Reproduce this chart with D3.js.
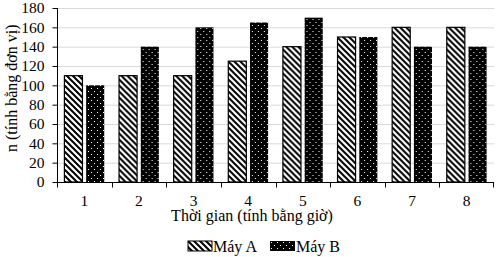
<!DOCTYPE html>
<html>
<head>
<meta charset="utf-8">
<script src="https://cdn.jsdelivr.net/npm/d3@7"></script>
<style>
  body { margin: 0; background: #fff; }
  text { font-family: "Liberation Serif", "Times New Roman", serif; }
</style>
</head>
<body>
<script>
const categories = ['1', '2', '3', '4', '5', '6', '7', '8'];
const seriesNames = ['Máy A', 'Máy B'];
const mayA = [110, 110, 110, 125, 140, 150, 160, 160];
const mayB = [100, 140, 160, 165, 170, 150, 140, 140];
const yTicks = [0, 20, 40, 60, 80, 100, 120, 140, 160, 180];

const width  = 503;
const height = 257;
const margin = {top: 8, right: 9, bottom: 75, left: 57};

const svg = d3.select('body').append('svg')
  .attr('width', width)
  .attr('height', height);

const defs = svg.append('defs');

// diagonal hatch for Máy A
const hatch = defs.append('pattern')
  .attr('id', 'hatchA')
  .attr('patternUnits', 'userSpaceOnUse')
  .attr('width', 6).attr('height', 6);
hatch.append('rect').attr('width', 6).attr('height', 6).attr('fill', '#fff');
hatch.append('path')
  .attr('d', 'M-1,-1 L7,7 M-1,5 L1,7 M5,-1 L7,1')
  .attr('stroke', '#000').attr('stroke-width', 2);

// white dots on black for Máy B
const dots = defs.append('pattern')
  .attr('id', 'dotsB')
  .attr('patternUnits', 'userSpaceOnUse')
  .attr('width', 6).attr('height', 6);
dots.append('rect').attr('width', 6).attr('height', 6).attr('fill', '#000');
dots.append('rect').attr('x', 1).attr('y', 1).attr('width', 1).attr('height', 1).attr('fill', '#fff');
dots.append('rect').attr('x', 4).attr('y', 4).attr('width', 1).attr('height', 1).attr('fill', '#fff');

const fills = ['url(#hatchA)', 'url(#dotsB)'];

const x = d3.scaleBand()
  .domain(categories)
  .range([margin.left, width - margin.right]);

const x1 = d3.scaleBand()
  .domain(seriesNames)
  .range([0, x.bandwidth()])
  .paddingInner(0.17)
  .paddingOuter(0.34);

const y = d3.scaleLinear()
  .domain([0, 180])
  .range([height - margin.bottom, margin.top]);

// gridlines
svg.append('g')
  .selectAll('line')
  .data(yTicks.slice(1))
  .enter().append('line')
  .attr('x1', margin.left).attr('x2', width - margin.right)
  .attr('y1', d => y(d) + 0.5).attr('y2', d => y(d) + 0.5)
  .attr('stroke', '#d9d9d9').attr('stroke-width', 1);

// y axis
const yAxis = svg.append('g')
  .attr('transform', 'translate(' + (margin.left + 0.5) + ',0)')
  .call(d3.axisLeft(y).tickValues(yTicks).tickSize(5).tickPadding(8));
yAxis.select('.domain').attr('stroke', '#000').attr('d', 'M0,' + y(180) + 'V' + (y(0) + 0.5));
yAxis.selectAll('text').attr('font-size', 15.5).attr('fill', '#000')
  .attr('font-family', '"Liberation Serif", serif');

// bars
const data = categories.map((c, i) => ({cat: c, values: [mayA[i], mayB[i]]}));

const groups = svg.append('g')
  .selectAll('g')
  .data(data)
  .enter().append('g')
  .attr('transform', d => 'translate(' + x(d.cat) + ',0)');

groups.selectAll('rect')
  .data(d => d.values.map((v, k) => ({name: seriesNames[k], value: v, k: k})))
  .enter().append('rect')
  .attr('x', d => x1(d.name))
  .attr('y', d => y(d.value))
  .attr('width', x1.bandwidth())
  .attr('height', d => y(0) - y(d.value))
  .attr('fill', d => fills[d.k])
  .attr('stroke', '#000')
  .attr('stroke-width', d => d.k === 0 ? 1.2 : 0);

// x axis
const xAxisG = svg.append('g')
  .attr('transform', 'translate(0,' + (y(0) + 0.5) + ')');
xAxisG.append('line')
  .attr('x1', margin.left).attr('x2', width - margin.right)
  .attr('stroke', '#000');
xAxisG.selectAll('.tk')
  .data(categories.concat(['end']))
  .enter().append('line')
  .attr('class', 'tk')
  .attr('x1', (d, i) => i < categories.length ? Math.round(x(d)) + 0.5 : width - margin.right - 0.5)
  .attr('x2', (d, i) => i < categories.length ? Math.round(x(d)) + 0.5 : width - margin.right - 0.5)
  .attr('y1', 0).attr('y2', 5)
  .attr('stroke', '#000');
xAxisG.selectAll('.lb')
  .data(categories)
  .enter().append('text')
  .attr('class', 'lb')
  .attr('x', d => x(d) + x.bandwidth() / 2)
  .attr('y', 23)
  .attr('text-anchor', 'middle')
  .attr('font-size', 15.5)
  .text(d => d);

// axis titles
svg.append('text')
  .attr('x', 252)
  .attr('y', 221)
  .attr('text-anchor', 'middle')
  .attr('font-size', 16)
  .text('Thời gian (tính bằng giờ)');

svg.append('text')
  .attr('transform', 'translate(17,' + (y(97)) + ') rotate(-90)')
  .attr('text-anchor', 'middle')
  .attr('font-size', 16)
  .text('n (tính bằng đơn vị)');

// legend
const legendX = [188, 270];
const legend = svg.append('g')
  .selectAll('g')
  .data(seriesNames)
  .enter().append('g')
  .attr('transform', (d, i) => 'translate(' + legendX[i] + ',241)');
legend.append('rect')
  .attr('width', (d, i) => i === 0 ? 24 : 25)
  .attr('height', 10)
  .attr('fill', (d, i) => fills[i])
  .attr('stroke', '#000')
  .attr('stroke-width', (d, i) => i === 0 ? 1 : 0);
legend.append('text')
  .attr('x', (d, i) => i === 0 ? 25 : 26)
  .attr('y', 11)
  .attr('font-size', 16)
  .text(d => d);
</script>
</body>
</html>
